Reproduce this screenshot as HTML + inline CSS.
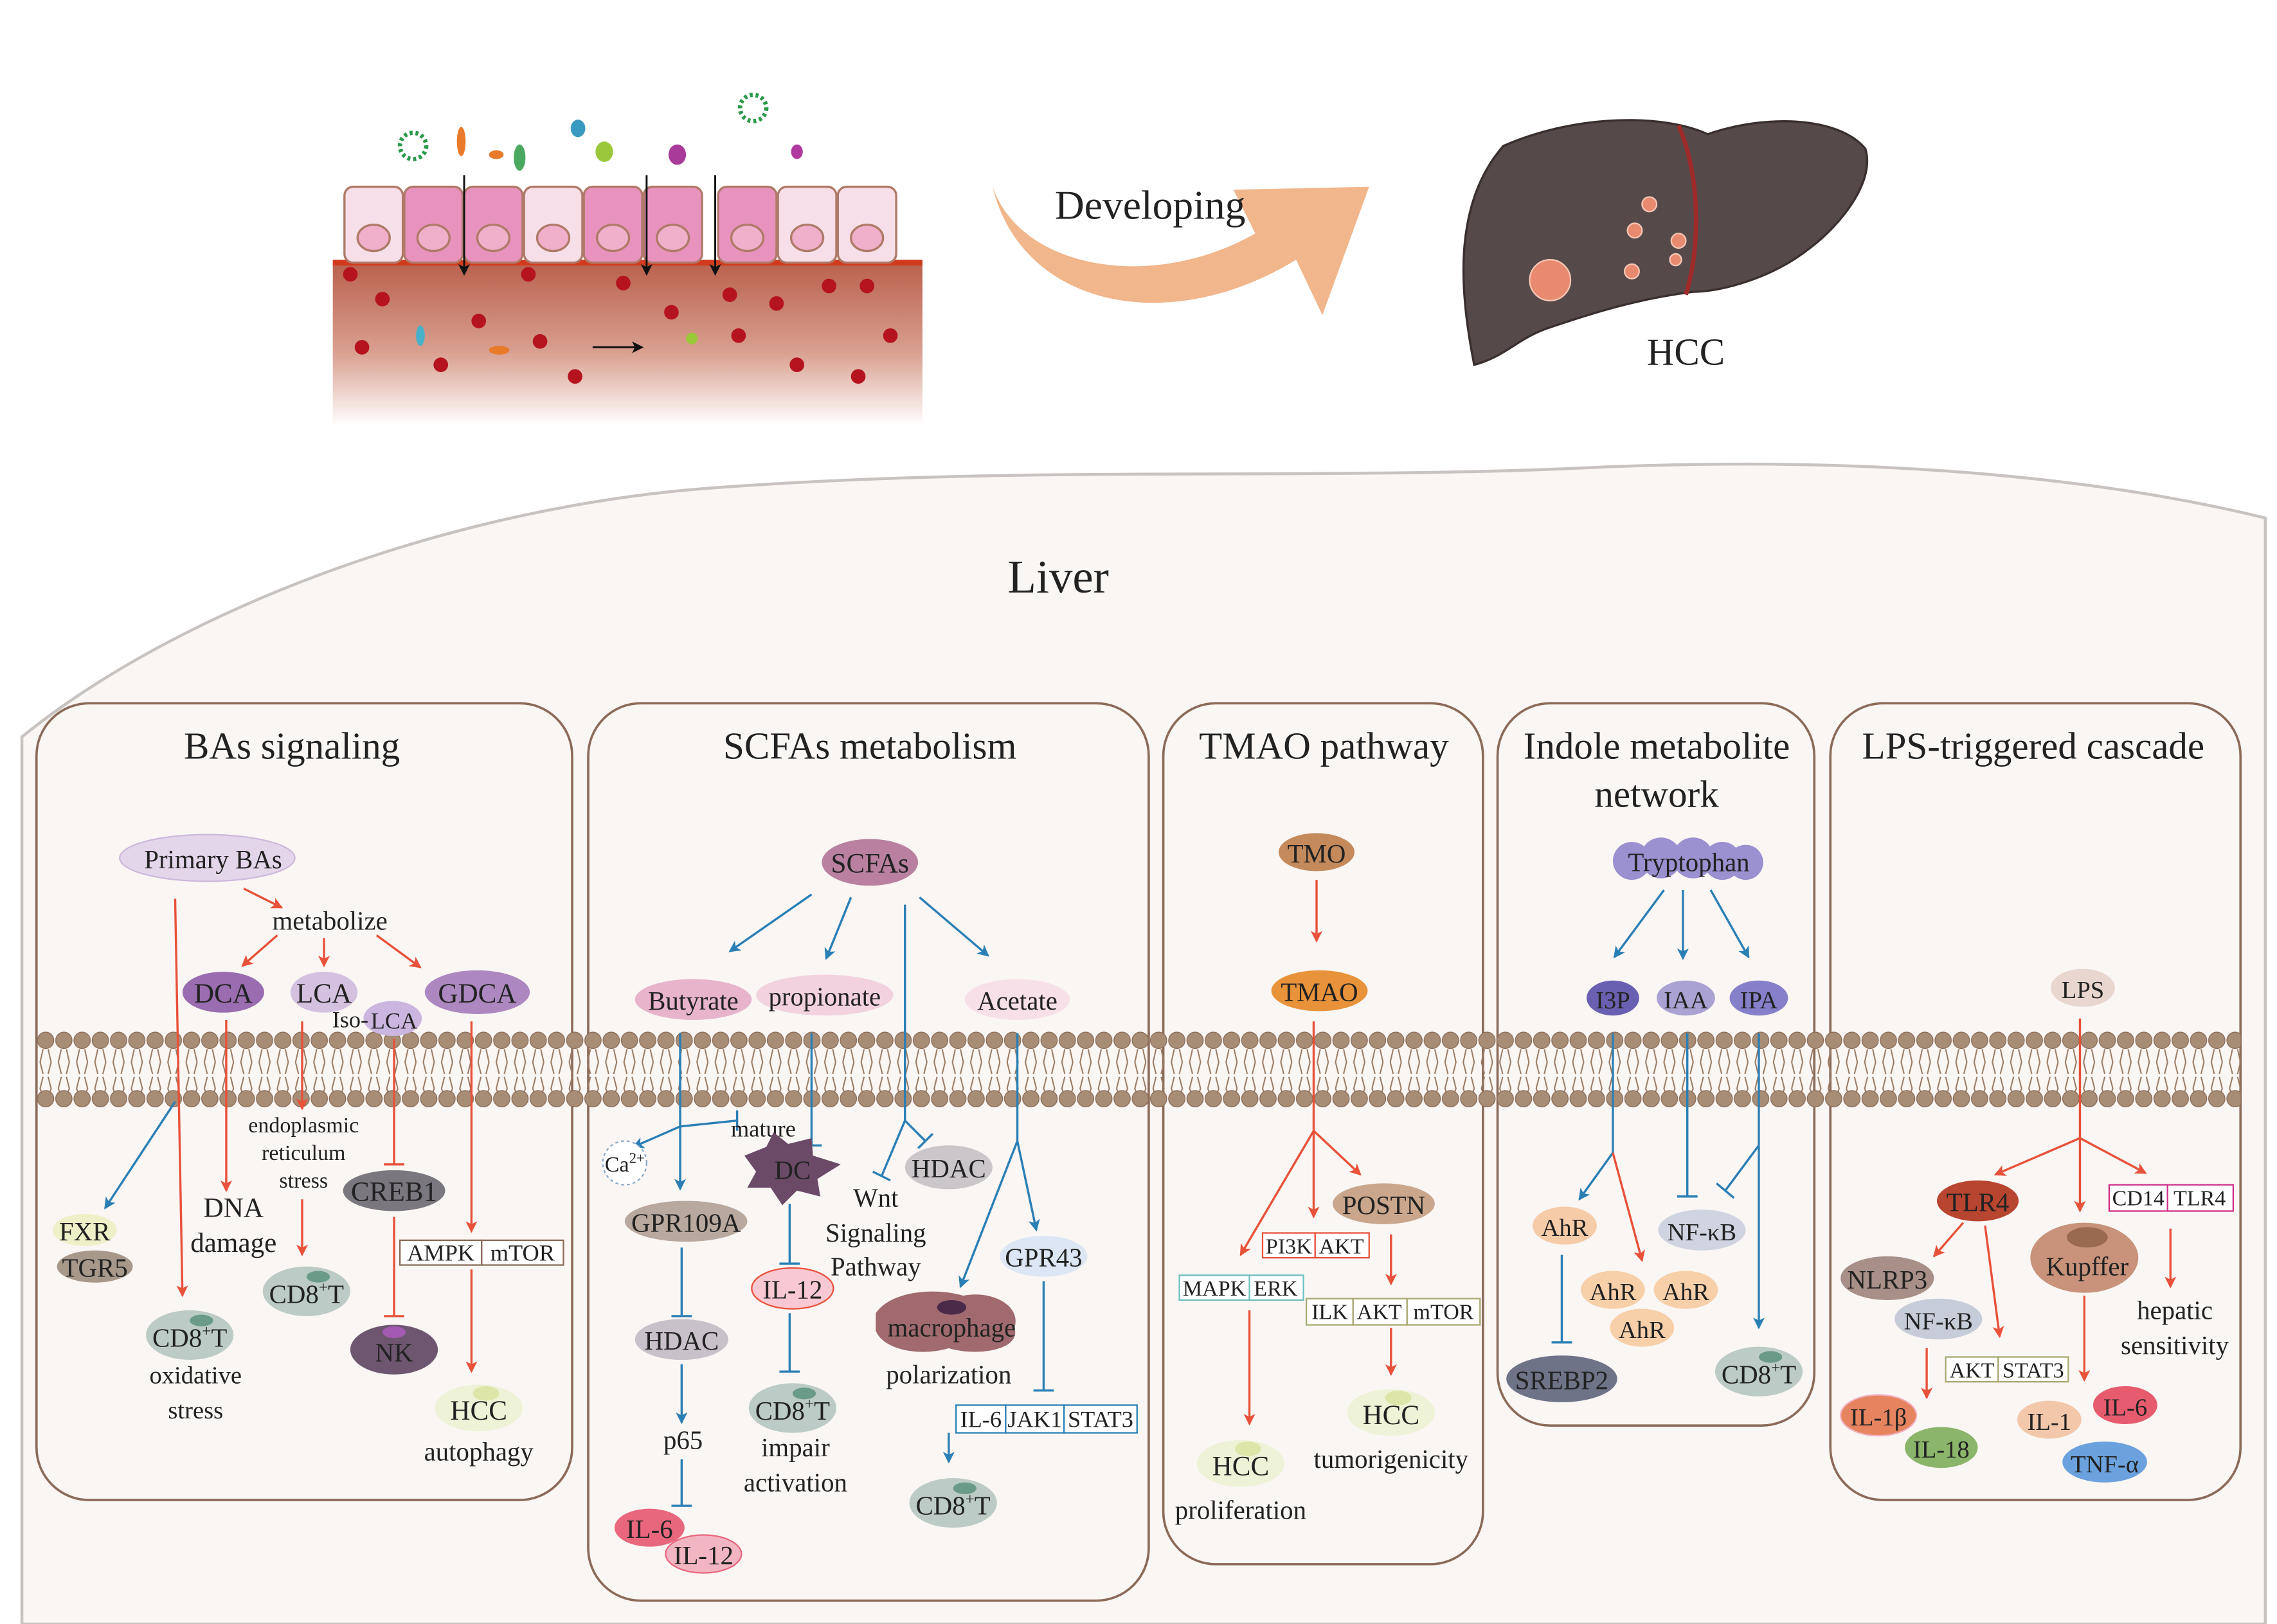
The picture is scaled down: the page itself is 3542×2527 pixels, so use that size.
<!DOCTYPE html>
<html><head><meta charset="utf-8"><style>
html,body{margin:0;padding:0;background:#fff;}
svg{display:block;}
text{font-family:"Liberation Serif",serif;fill:#222;}
</style></head><body>
<svg width="3542" height="2527" viewBox="0 0 1560 1113" preserveAspectRatio="none" xmlns="http://www.w3.org/2000/svg">
<defs>
<marker id="ar" markerWidth="8" markerHeight="8" refX="7" refY="4" orient="auto" markerUnits="userSpaceOnUse"><path d="M0,0 L8,4 L0,8 L2,4 z" fill="#e8513a"/></marker>
<marker id="ab" markerWidth="8" markerHeight="8" refX="7" refY="4" orient="auto" markerUnits="userSpaceOnUse"><path d="M0,0 L8,4 L0,8 L2,4 z" fill="#2a7fb5"/></marker>
<marker id="ak" markerWidth="8" markerHeight="8" refX="7" refY="4" orient="auto" markerUnits="userSpaceOnUse"><path d="M0,0 L8,4 L0,8 L2,4 z" fill="#111"/></marker>
<linearGradient id="gut" x1="0" y1="0" x2="0" y2="1"><stop offset="0" stop-color="#b9614d"/><stop offset="0.55" stop-color="#d9a090"/><stop offset="1" stop-color="#fff"/></linearGradient>
<pattern id="mem" x="25" y="0" width="12.5" height="1113" patternUnits="userSpaceOnUse">
<path d="M4.5,719 L2.5,728 L4.5,736 M8,719 L10,728 L8,736 M4.5,738 L2.5,746 L4.5,752 M8,738 L10,746 L8,752" stroke="#9a7a62" stroke-width="0.9" fill="none"/>
<circle cx="6.25" cy="713" r="5.6" fill="#a88d76" stroke="#8b6d58" stroke-width="0.6"/>
<circle cx="6.25" cy="753" r="5.6" fill="#a88d76" stroke="#8b6d58" stroke-width="0.6"/>
</pattern>
</defs>

<!-- liver background region -->
<path d="M15,505 C120,420 300,350 480,335 C700,318 900,330 1100,320 C1300,312 1450,330 1552,355 L1552,1113 L15,1113 Z" fill="#faf6f4" stroke="#c8c3c0" stroke-width="2"/>
<text x="725" y="406" font-size="32" text-anchor="middle">Liver</text>

<!-- intestine -->
<rect x="228" y="180" width="404" height="112" fill="url(#gut)"/>
<rect x="228" y="178" width="404" height="4" fill="#d23a1e"/>
<g stroke="#b07a6a" stroke-width="1.5">
<rect x="236" y="128" width="40" height="52" rx="6" fill="#f6dfe8"/>
<rect x="277" y="128" width="40" height="52" rx="6" fill="#e893bd"/>
<rect x="318" y="128" width="40" height="52" rx="6" fill="#e893bd"/>
<rect x="359" y="128" width="40" height="52" rx="6" fill="#f6dfe8"/>
<rect x="400" y="128" width="40" height="52" rx="6" fill="#e893bd"/>
<rect x="441" y="128" width="40" height="52" rx="6" fill="#e893bd"/>
<rect x="492" y="128" width="40" height="52" rx="6" fill="#e893bd"/>
<rect x="533" y="128" width="40" height="52" rx="6" fill="#f6dfe8"/>
<rect x="574" y="128" width="40" height="52" rx="6" fill="#f6dfe8"/>
</g>
<g fill="#f0b0cc" stroke="#b07a6a" stroke-width="1.5">
<ellipse cx="256" cy="163" rx="11" ry="9"/><ellipse cx="297" cy="163" rx="11" ry="9"/><ellipse cx="338" cy="163" rx="11" ry="9"/><ellipse cx="379" cy="163" rx="11" ry="9"/><ellipse cx="420" cy="163" rx="11" ry="9"/><ellipse cx="461" cy="163" rx="11" ry="9"/><ellipse cx="512" cy="163" rx="11" ry="9"/><ellipse cx="553" cy="163" rx="11" ry="9"/><ellipse cx="594" cy="163" rx="11" ry="9"/>
</g>
<g fill="#b5141f">
<circle cx="240" cy="188" r="5"/><circle cx="362" cy="188" r="5"/><circle cx="427" cy="194" r="5"/><circle cx="460" cy="214" r="5"/><circle cx="500" cy="202" r="5"/><circle cx="532" cy="208" r="5"/><circle cx="568" cy="196" r="5"/><circle cx="594" cy="196" r="5"/><circle cx="328" cy="220" r="5"/><circle cx="248" cy="238" r="5"/><circle cx="302" cy="250" r="5"/><circle cx="370" cy="234" r="5"/><circle cx="394" cy="258" r="5"/><circle cx="506" cy="230" r="5"/><circle cx="546" cy="250" r="5"/><circle cx="588" cy="258" r="5"/><circle cx="610" cy="230" r="5"/><circle cx="262" cy="205" r="5"/>
</g>
<g stroke="#111" stroke-width="1.3"><line x1="318" y1="120" x2="318" y2="188" marker-end="url(#ak)"/><line x1="443" y1="120" x2="443" y2="188" marker-end="url(#ak)"/><line x1="490" y1="120" x2="490" y2="188" marker-end="url(#ak)"/><line x1="406" y1="238" x2="440" y2="238" marker-end="url(#ak)"/></g>
<g fill="none" stroke-width="3">
<circle cx="283" cy="100" r="9" stroke="#2a9a4a" stroke-dasharray="2 2"/>
<circle cx="516" cy="74" r="9" stroke="#2a9a4a" stroke-dasharray="2 2"/>
</g>
<ellipse cx="316" cy="97" rx="3" ry="10" fill="#e87a2a"/>
<ellipse cx="356" cy="108" rx="4" ry="9" fill="#4aa860"/>
<ellipse cx="414" cy="104" rx="6" ry="7" fill="#9ac83a"/>
<ellipse cx="464" cy="106" rx="6" ry="7" fill="#a83a9a"/>
<ellipse cx="396" cy="88" rx="5" ry="6" fill="#3a9ac0"/>
<ellipse cx="546" cy="104" rx="4" ry="5" fill="#b03aa0"/>
<ellipse cx="340" cy="106" rx="5" ry="3" fill="#e87a2a"/>
<ellipse cx="342" cy="240" rx="7" ry="3" fill="#e87a2a"/>
<ellipse cx="288" cy="230" rx="3" ry="7" fill="#4ab0c8"/>
<circle cx="474" cy="232" r="4" fill="#9ac83a"/>

<!-- developing arrow -->
<path d="M680,128 C700,185 790,200 860,160 L845,130 L938,128 L906,216 L888,178 C800,232 700,210 680,128 Z" fill="#f1b68c"/>
<text x="788" y="150" font-size="28" text-anchor="middle">Developing</text>

<!-- liver organ -->
<path d="M1030,100 C1080,78 1140,78 1170,92 C1210,78 1260,80 1278,102 C1285,125 1260,155 1240,170 C1215,190 1180,200 1160,200 C1120,205 1090,215 1060,225 C1040,232 1030,245 1010,250 C1000,200 995,140 1030,100 Z" fill="#56494a" stroke="#3a2f2f" stroke-width="1.5"/>
<path d="M1150,86 C1165,120 1165,170 1155,202" stroke="#9e2a2a" stroke-width="3" fill="none"/>
<g fill="#e88a70" stroke="#f6c6b4" stroke-width="1"><circle cx="1062" cy="192" r="14"/><circle cx="1130" cy="140" r="5"/><circle cx="1120" cy="158" r="5"/><circle cx="1150" cy="165" r="5"/><circle cx="1118" cy="186" r="5"/><circle cx="1148" cy="178" r="4"/></g>
<text x="1155" y="250" font-size="26" text-anchor="middle">HCC</text>

<!-- panels -->
<g fill="#faf6f4" stroke="#8b6a58" stroke-width="1.6">
<rect x="25" y="482" width="367" height="546" rx="36"/>
<rect x="403" y="482" width="384" height="615" rx="36"/>
<rect x="797" y="482" width="219" height="590" rx="36"/>
<rect x="1026" y="482" width="217" height="495" rx="36"/>
<rect x="1254" y="482" width="281" height="546" rx="36"/>
</g>
<rect x="25" y="704" width="1510" height="58" fill="url(#mem)"/>

<g font-size="26" text-anchor="middle">
<text x="200" y="520">BAs signaling</text>
<text x="596" y="520">SCFAs metabolism</text>
<text x="907" y="520">TMAO pathway</text>
<text x="1135" y="520">Indole metabolite</text>
<text x="1135" y="553">network</text>
<text x="1393" y="520">LPS-triggered cascade</text>
</g>

<!-- ============ BAs ============ -->
<g stroke="#e8513a" stroke-width="1.5" fill="none">
<line x1="167" y1="609" x2="193" y2="622" marker-end="url(#ar)"/>
<line x1="190" y1="641" x2="166" y2="662" marker-end="url(#ar)"/>
<line x1="222" y1="643" x2="222" y2="662" marker-end="url(#ar)"/>
<line x1="258" y1="641" x2="288" y2="663" marker-end="url(#ar)"/>
<line x1="120" y1="616" x2="125" y2="888" marker-end="url(#ar)"/>
<line x1="155" y1="699" x2="155" y2="816" marker-end="url(#ar)"/>
<line x1="207" y1="700" x2="207" y2="760" marker-end="url(#ar)"/>
<line x1="270" y1="712" x2="270" y2="798"/><line x1="263" y1="798" x2="277" y2="798"/>
<line x1="323" y1="700" x2="323" y2="844" marker-end="url(#ar)"/>
<line x1="207" y1="822" x2="207" y2="860" marker-end="url(#ar)"/>
<line x1="270" y1="834" x2="270" y2="902"/><line x1="263" y1="902" x2="277" y2="902"/>
<line x1="323" y1="870" x2="323" y2="940" marker-end="url(#ar)"/>
</g>
<line x1="120" y1="755" x2="72" y2="828" stroke="#2a7fb5" stroke-width="1.5" marker-end="url(#ab)"/>
<ellipse cx="142" cy="588" rx="60" ry="16" fill="#e3d6ea" stroke="#cdb9dc"/>
<text x="146" y="595" font-size="18" text-anchor="middle">Primary BAs</text>
<text x="226" y="637" font-size="18" text-anchor="middle">metabolize</text>
<ellipse cx="153" cy="680" rx="28" ry="14" fill="#9a6cb0"/>
<ellipse cx="222" cy="680" rx="23" ry="14" fill="#d4c1e0"/>
<ellipse cx="327" cy="680" rx="36" ry="15" fill="#ad88c0"/>
<ellipse cx="269" cy="698" rx="20" ry="12" fill="#cbb6df"/>
<g font-size="19" text-anchor="middle"><text x="153" y="687">DCA</text><text x="222" y="687">LCA</text><text x="327" y="687">GDCA</text></g>
<text x="240" y="704" font-size="16" text-anchor="middle">Iso-</text><text x="270" y="705" font-size="16" text-anchor="middle">LCA</text>
<g font-size="15" text-anchor="middle"><text x="208" y="776">endoplasmic</text><text x="208" y="795">reticulum</text><text x="208" y="814">stress</text></g>
<g font-size="19" text-anchor="middle"><text x="160" y="834">DNA</text><text x="160" y="858">damage</text></g>
<ellipse cx="270" cy="816" rx="35" ry="14" fill="#7a787e"/><text x="270" y="823" font-size="19" text-anchor="middle">CREB1</text>
<ellipse cx="58" cy="843" rx="22" ry="11" fill="#eef0c8"/><text x="58" y="850" font-size="18" text-anchor="middle">FXR</text>
<ellipse cx="65" cy="868" rx="26" ry="11" fill="#a8988a"/><text x="65" y="875" font-size="18" text-anchor="middle">TGR5</text>
<rect x="274" y="850" width="56" height="17" fill="#fff" stroke="#8b6a58"/><rect x="330" y="850" width="56" height="17" fill="#fff" stroke="#8b6a58"/>
<text x="302" y="864" font-size="16" text-anchor="middle">AMPK</text><text x="358" y="864" font-size="16" text-anchor="middle">mTOR</text>
<ellipse cx="210" cy="885" rx="30" ry="17" fill="#bccbc5"/><ellipse cx="218" cy="875" rx="8" ry="4" fill="#6a9a88"/>
<text x="210" y="893" font-size="18" text-anchor="middle">CD8<tspan font-size="11" dy="-7">+</tspan><tspan dy="7">T</tspan></text>
<ellipse cx="130" cy="915" rx="30" ry="17" fill="#bccbc5"/><ellipse cx="138" cy="905" rx="8" ry="4" fill="#6a9a88"/>
<text x="130" y="923" font-size="18" text-anchor="middle">CD8<tspan font-size="11" dy="-7">+</tspan><tspan dy="7">T</tspan></text>
<g font-size="17" text-anchor="middle"><text x="134" y="948">oxidative</text><text x="134" y="972">stress</text></g>
<ellipse cx="270" cy="925" rx="30" ry="17" fill="#6e5670"/><ellipse cx="270" cy="913" rx="8" ry="4" fill="#a45ab0"/><text x="270" y="933" font-size="18" text-anchor="middle">NK</text>
<ellipse cx="328" cy="965" rx="30" ry="16" fill="#eef2d6"/><ellipse cx="333" cy="955" rx="9" ry="5" fill="#dde6a8"/><text x="328" y="973" font-size="19" text-anchor="middle">HCC</text>
<text x="328" y="1001" font-size="18" text-anchor="middle">autophagy</text>

<!-- ============ SCFAs ============ -->
<g stroke="#2a7fb5" stroke-width="1.5" fill="none">
<line x1="556" y1="613" x2="500" y2="652" marker-end="url(#ab)"/>
<line x1="583" y1="615" x2="566" y2="657" marker-end="url(#ab)"/>
<line x1="630" y1="615" x2="677" y2="655" marker-end="url(#ab)"/>
<line x1="620" y1="620" x2="620" y2="768"/>
<line x1="620" y1="768" x2="634" y2="782"/><line x1="629" y1="787" x2="639" y2="777"/>
<line x1="620" y1="768" x2="604" y2="806"/><line x1="598" y1="803" x2="610" y2="809"/>
<line x1="466" y1="708" x2="466" y2="815" marker-end="url(#ab)"/>
<line x1="466" y1="772" x2="434" y2="786" marker-end="url(#ab)"/>
<line x1="466" y1="772" x2="505" y2="768"/><line x1="505" y1="761" x2="505" y2="775"/>
<line x1="556" y1="708" x2="556" y2="785"/><line x1="549" y1="785" x2="563" y2="785"/>
<line x1="541" y1="825" x2="541" y2="866"/><line x1="534" y1="866" x2="548" y2="866"/>
<line x1="541" y1="900" x2="541" y2="940"/><line x1="534" y1="940" x2="548" y2="940"/>
<line x1="697" y1="708" x2="697" y2="782"/>
<line x1="697" y1="782" x2="710" y2="843" marker-end="url(#ab)"/>
<line x1="697" y1="782" x2="658" y2="882" marker-end="url(#ab)"/>
<line x1="715" y1="878" x2="715" y2="953"/><line x1="708" y1="953" x2="722" y2="953"/>
<line x1="467" y1="855" x2="467" y2="902"/><line x1="460" y1="902" x2="474" y2="902"/>
<line x1="467" y1="935" x2="467" y2="975" marker-end="url(#ab)"/>
<line x1="467" y1="1000" x2="467" y2="1032"/><line x1="460" y1="1032" x2="474" y2="1032"/>
<line x1="650" y1="982" x2="650" y2="1002" marker-end="url(#ab)"/>
</g>
<ellipse cx="596" cy="591" rx="33" ry="16" fill="#b9819f"/><text x="596" y="598" font-size="19" text-anchor="middle">SCFAs</text>
<ellipse cx="475" cy="685" rx="40" ry="14" fill="#e8b4cc"/><text x="475" y="692" font-size="18" text-anchor="middle">Butyrate</text>
<ellipse cx="565" cy="682" rx="47" ry="14" fill="#f2d2df"/><text x="565" y="689" font-size="18" text-anchor="middle">propionate</text>
<ellipse cx="697" cy="685" rx="36" ry="14" fill="#f8e0e9"/><text x="697" y="692" font-size="18" text-anchor="middle">Acetate</text>
<circle cx="428" cy="797" r="15" fill="#fff" stroke="#8aa8c8" stroke-dasharray="2 2"/><text x="428" y="803" font-size="15" text-anchor="middle">Ca<tspan font-size="10" dy="-6">2+</tspan></text>
<text x="523" y="779" font-size="16" text-anchor="middle">mature</text>
<path d="M510,792 L525,786 L530,776 L540,784 L556,780 L557,792 L576,798 L560,808 L562,820 L546,816 L536,826 L528,814 L512,814 L518,803 Z" fill="#6b4a68"/>
<text x="543" y="808" font-size="18" text-anchor="middle">DC</text>
<ellipse cx="650" cy="800" rx="30" ry="15" fill="#cac6c9"/><text x="650" y="807" font-size="18" text-anchor="middle">HDAC</text>
<g font-size="18" text-anchor="middle"><text x="600" y="827">Wnt</text><text x="600" y="851">Signaling</text><text x="600" y="874">Pathway</text></g>
<ellipse cx="470" cy="837" rx="42" ry="14" fill="#b8a89e"/><text x="470" y="844" font-size="18" text-anchor="middle">GPR109A</text>
<ellipse cx="543" cy="883" rx="28" ry="14" fill="#f8c9d2" stroke="#e8513a"/><text x="543" y="890" font-size="18" text-anchor="middle">IL-12</text>
<ellipse cx="715" cy="861" rx="30" ry="14" fill="#dde6f4"/><text x="715" y="868" font-size="18" text-anchor="middle">GPR43</text>
<path d="M600,900 C610,885 640,882 660,888 C680,884 700,895 695,910 C700,925 670,930 650,924 C630,930 605,925 600,912 Z" fill="#a06a6e"/>
<ellipse cx="652" cy="896" rx="10" ry="5" fill="#4a2a48"/>
<text x="652" y="916" font-size="18" text-anchor="middle">macrophage</text>
<text x="650" y="948" font-size="18" text-anchor="middle">polarization</text>
<ellipse cx="467" cy="918" rx="32" ry="14" fill="#c9c1c9"/><text x="467" y="925" font-size="18" text-anchor="middle">HDAC</text>
<ellipse cx="543" cy="965" rx="30" ry="17" fill="#bccbc5"/><ellipse cx="551" cy="955" rx="8" ry="4" fill="#6a9a88"/>
<text x="543" y="973" font-size="18" text-anchor="middle">CD8<tspan font-size="11" dy="-7">+</tspan><tspan dy="7">T</tspan></text>
<g font-size="18" text-anchor="middle"><text x="545" y="998">impair</text><text x="545" y="1022">activation</text></g>
<text x="468" y="993" font-size="18" text-anchor="middle">p65</text>
<rect x="655" y="963" width="34" height="19" fill="#fff" stroke="#2a7fb5"/><rect x="689" y="963" width="40" height="19" fill="#fff" stroke="#2a7fb5"/><rect x="729" y="963" width="50" height="19" fill="#fff" stroke="#2a7fb5"/>
<g font-size="16" text-anchor="middle"><text x="672" y="978">IL-6</text><text x="709" y="978">JAK1</text><text x="754" y="978">STAT3</text></g>
<ellipse cx="653" cy="1030" rx="30" ry="17" fill="#bccbc5"/><ellipse cx="661" cy="1020" rx="8" ry="4" fill="#6a9a88"/>
<text x="653" y="1038" font-size="18" text-anchor="middle">CD8<tspan font-size="11" dy="-7">+</tspan><tspan dy="7">T</tspan></text>
<ellipse cx="445" cy="1047" rx="24" ry="13" fill="#e8677d"/><text x="445" y="1054" font-size="18" text-anchor="middle">IL-6</text>
<ellipse cx="482" cy="1065" rx="26" ry="13" fill="#f2b5c2" stroke="#e8677d"/><text x="482" y="1072" font-size="18" text-anchor="middle">IL-12</text>

<!-- ============ TMAO ============ -->
<g stroke="#e8513a" stroke-width="1.5" fill="none">
<line x1="902" y1="603" x2="902" y2="645" marker-end="url(#ar)"/>
<line x1="900" y1="700" x2="900" y2="775"/>
<line x1="900" y1="775" x2="850" y2="860" marker-end="url(#ar)"/>
<line x1="900" y1="775" x2="900" y2="834" marker-end="url(#ar)"/>
<line x1="900" y1="775" x2="932" y2="805" marker-end="url(#ar)"/>
<line x1="856" y1="898" x2="856" y2="976" marker-end="url(#ar)"/>
<line x1="953" y1="846" x2="953" y2="880" marker-end="url(#ar)"/>
<line x1="953" y1="910" x2="953" y2="942" marker-end="url(#ar)"/>
</g>
<ellipse cx="902" cy="584" rx="26" ry="13" fill="#c48a5c"/><text x="902" y="591" font-size="18" text-anchor="middle">TMO</text>
<ellipse cx="904" cy="679" rx="33" ry="14" fill="#e8923a"/><text x="904" y="686" font-size="18" text-anchor="middle">TMAO</text>
<ellipse cx="948" cy="825" rx="35" ry="14" fill="#c9a68c"/><text x="948" y="832" font-size="18" text-anchor="middle">POSTN</text>
<rect x="865" y="845" width="36" height="17" fill="#fff" stroke="#e8513a"/><rect x="901" y="845" width="37" height="17" fill="#fff" stroke="#e8513a"/>
<g font-size="15" text-anchor="middle"><text x="883" y="859">PI3K</text><text x="919" y="859">AKT</text></g>
<rect x="808" y="874" width="48" height="17" fill="#fff" stroke="#6cc0c0"/><rect x="856" y="874" width="37" height="17" fill="#fff" stroke="#6cc0c0"/>
<g font-size="15" text-anchor="middle"><text x="832" y="888">MAPK</text><text x="874" y="888">ERK</text></g>
<rect x="895" y="890" width="32" height="18" fill="#fff" stroke="#a8a870"/><rect x="927" y="890" width="37" height="18" fill="#fff" stroke="#a8a870"/><rect x="964" y="890" width="50" height="18" fill="#fff" stroke="#a8a870"/>
<g font-size="15" text-anchor="middle"><text x="911" y="904">ILK</text><text x="945" y="904">AKT</text><text x="989" y="904">mTOR</text></g>
<ellipse cx="850" cy="1003" rx="30" ry="16" fill="#eef2d6"/><ellipse cx="855" cy="993" rx="9" ry="5" fill="#dde6a8"/><text x="850" y="1011" font-size="19" text-anchor="middle">HCC</text>
<text x="850" y="1041" font-size="18" text-anchor="middle">proliferation</text>
<ellipse cx="953" cy="968" rx="30" ry="16" fill="#eef2d6"/><ellipse cx="958" cy="958" rx="9" ry="5" fill="#dde6a8"/><text x="953" y="976" font-size="19" text-anchor="middle">HCC</text>
<text x="953" y="1006" font-size="18" text-anchor="middle">tumorigenicity</text>

<!-- ============ Indole ============ -->
<g stroke="#2a7fb5" stroke-width="1.5" fill="none">
<line x1="1140" y1="610" x2="1106" y2="656" marker-end="url(#ab)"/>
<line x1="1153" y1="610" x2="1153" y2="657" marker-end="url(#ab)"/>
<line x1="1172" y1="610" x2="1198" y2="656" marker-end="url(#ab)"/>
<line x1="1105" y1="708" x2="1105" y2="790"/>
<line x1="1105" y1="790" x2="1082" y2="822" marker-end="url(#ab)"/>
<line x1="1070" y1="860" x2="1070" y2="920"/><line x1="1063" y1="920" x2="1077" y2="920"/>
<line x1="1156" y1="708" x2="1156" y2="820"/><line x1="1149" y1="820" x2="1163" y2="820"/>
<line x1="1205" y1="708" x2="1205" y2="785"/>
<line x1="1205" y1="785" x2="1182" y2="816"/><line x1="1176" y1="811" x2="1188" y2="821"/>
<line x1="1205" y1="785" x2="1205" y2="910" marker-end="url(#ab)"/>
</g>
<line x1="1105" y1="790" x2="1125" y2="864" stroke="#e8513a" stroke-width="1.5" marker-end="url(#ar)"/>
<g fill="#9b90d0"><circle cx="1118" cy="590" r="13"/><circle cx="1138" cy="588" r="14"/><circle cx="1160" cy="588" r="14"/><circle cx="1180" cy="590" r="13"/><circle cx="1196" cy="591" r="12"/></g>
<text x="1157" y="597" font-size="18" text-anchor="middle">Tryptophan</text>
<ellipse cx="1105" cy="684" rx="18" ry="12" fill="#6a60b2"/><text x="1105" y="691" font-size="17" text-anchor="middle">I3P</text>
<ellipse cx="1155" cy="684" rx="20" ry="12" fill="#aaa2d2"/><text x="1155" y="691" font-size="17" text-anchor="middle">IAA</text>
<ellipse cx="1205" cy="684" rx="20" ry="12" fill="#8680ca"/><text x="1205" y="691" font-size="17" text-anchor="middle">IPA</text>
<ellipse cx="1072" cy="840" rx="22" ry="13" fill="#f6cba8"/><text x="1072" y="847" font-size="17" text-anchor="middle">AhR</text>
<ellipse cx="1105" cy="884" rx="22" ry="13" fill="#f7cfa8"/><text x="1105" y="891" font-size="17" text-anchor="middle">AhR</text>
<ellipse cx="1155" cy="884" rx="22" ry="13" fill="#f7cfa8"/><text x="1155" y="891" font-size="17" text-anchor="middle">AhR</text>
<ellipse cx="1125" cy="910" rx="22" ry="13" fill="#f7cfa8"/><text x="1125" y="917" font-size="17" text-anchor="middle">AhR</text>
<ellipse cx="1166" cy="843" rx="30" ry="14" fill="#d0d4e0"/><text x="1166" y="850" font-size="17" text-anchor="middle">NF-κB</text>
<ellipse cx="1070" cy="945" rx="38" ry="16" fill="#6f7388"/><text x="1070" y="952" font-size="18" text-anchor="middle">SREBP2</text>
<ellipse cx="1205" cy="940" rx="30" ry="17" fill="#bccbc5"/><ellipse cx="1213" cy="930" rx="8" ry="4" fill="#6a9a88"/>
<text x="1205" y="948" font-size="18" text-anchor="middle">CD8<tspan font-size="11" dy="-7">+</tspan><tspan dy="7">T</tspan></text>

<!-- ============ LPS ============ -->
<g stroke="#e8513a" stroke-width="1.5" fill="none">
<line x1="1425" y1="698" x2="1425" y2="780"/>
<line x1="1425" y1="780" x2="1367" y2="805" marker-end="url(#ar)"/>
<line x1="1425" y1="780" x2="1425" y2="830" marker-end="url(#ar)"/>
<line x1="1425" y1="780" x2="1470" y2="804" marker-end="url(#ar)"/>
<line x1="1487" y1="842" x2="1487" y2="882" marker-end="url(#ar)"/>
<line x1="1345" y1="838" x2="1325" y2="861" marker-end="url(#ar)"/>
<line x1="1360" y1="840" x2="1370" y2="916" marker-end="url(#ar)"/>
<line x1="1320" y1="924" x2="1320" y2="958" marker-end="url(#ar)"/>
<line x1="1428" y1="888" x2="1428" y2="946" marker-end="url(#ar)"/>
</g>
<ellipse cx="1427" cy="677" rx="22" ry="13" fill="#e8d6cf"/><text x="1427" y="684" font-size="17" text-anchor="middle">LPS</text>
<ellipse cx="1355" cy="823" rx="28" ry="14" fill="#b8452f"/><text x="1355" y="830" font-size="18" text-anchor="middle">TLR4</text>
<rect x="1445" y="812" width="40" height="18" fill="#fff" stroke="#d0308a"/><rect x="1485" y="812" width="45" height="18" fill="#fff" stroke="#d0308a"/>
<g font-size="15" text-anchor="middle"><text x="1465" y="826">CD14</text><text x="1507" y="826">TLR4</text></g>
<ellipse cx="1428" cy="862" rx="37" ry="24" fill="#c8927b"/><ellipse cx="1430" cy="848" rx="14" ry="7" fill="#9a6a50"/>
<text x="1430" y="874" font-size="18" text-anchor="middle">Kupffer</text>
<g font-size="18" text-anchor="middle"><text x="1490" y="904">hepatic</text><text x="1490" y="928">sensitivity</text></g>
<ellipse cx="1293" cy="876" rx="32" ry="15" fill="#a88f88"/><text x="1293" y="883" font-size="18" text-anchor="middle">NLRP3</text>
<ellipse cx="1328" cy="904" rx="30" ry="14" fill="#c6ccd8"/><text x="1328" y="911" font-size="17" text-anchor="middle">NF-κB</text>
<rect x="1333" y="930" width="36" height="17" fill="#fff" stroke="#a8a870"/><rect x="1369" y="930" width="48" height="17" fill="#fff" stroke="#a8a870"/>
<g font-size="15" text-anchor="middle"><text x="1351" y="944">AKT</text><text x="1393" y="944">STAT3</text></g>
<ellipse cx="1287" cy="970" rx="26" ry="14" fill="#e6845f" stroke="#f2b0c0"/><text x="1287" y="977" font-size="17" text-anchor="middle">IL-1β</text>
<ellipse cx="1330" cy="992" rx="25" ry="14" fill="#8ab56a"/><text x="1330" y="999" font-size="17" text-anchor="middle">IL-18</text>
<ellipse cx="1404" cy="973" rx="22" ry="13" fill="#f3c8aa"/><text x="1404" y="980" font-size="17" text-anchor="middle">IL-1</text>
<ellipse cx="1456" cy="963" rx="22" ry="13" fill="#e65b6d"/><text x="1456" y="970" font-size="17" text-anchor="middle">IL-6</text>
<ellipse cx="1442" cy="1002" rx="29" ry="14" fill="#6ba2dd"/><text x="1442" y="1009" font-size="17" text-anchor="middle">TNF-α</text>
</svg>
</body></html>
